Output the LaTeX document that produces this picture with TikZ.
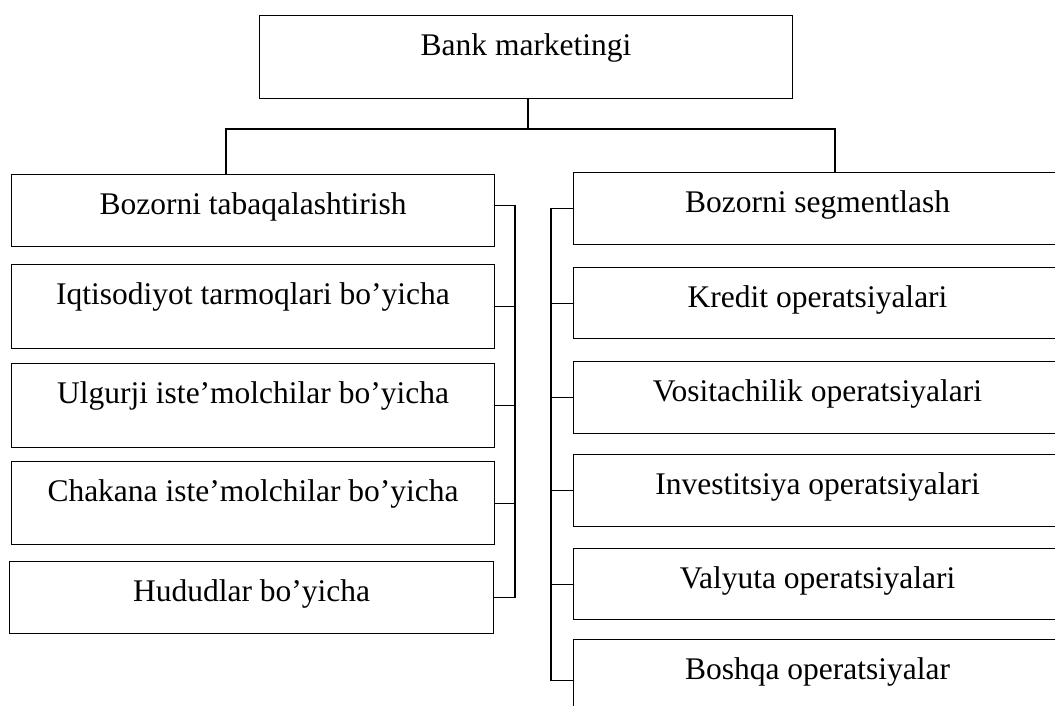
\documentclass[tikz,border=0pt]{standalone}
\usepackage{fontspec}
\setmainfont{Liberation Serif}
\begin{document}
\begin{tikzpicture}[x=1pt,y=-1pt,
  box/.style={draw, line width=1.1pt, rectangle, inner sep=0pt, anchor=north west,
    text height=40pt, font=\fontsize{31.5}{37}\selectfont, align=center},
  conn/.style={line width=1.1pt}]
\useasboundingbox (0,0) rectangle (1055,706);
\clip (0,0) rectangle (1055,706);
% top
\node[box, minimum width=533pt, minimum height=83pt, text depth=43pt] (top) at (259,15) {Bank marketingi};
% left column
\node[box, minimum width=483pt, minimum height=72pt, text depth=32pt] (lb1) at (11,174) {Bozorni tabaqalashtirish};
\node[box, minimum width=483pt, minimum height=84pt, text depth=44pt] (lb2) at (11,264) {Iqtisodiyot tarmoqlari bo’yicha};
\node[box, minimum width=483pt, minimum height=84pt, text depth=44pt] (lb3) at (11,363) {Ulgurji iste’molchilar bo’yicha};
\node[box, minimum width=483pt, minimum height=83pt, text depth=43pt] (lb4) at (11,461) {Chakana iste’molchilar bo’yicha};
\node[box, minimum width=484pt, minimum height=72pt, text depth=32pt] (lb5) at (9,561) {Hududlar bo’yicha};
% right column
\node[box, minimum width=488pt, minimum height=72pt, text depth=32pt] (rb1) at (573,172) {Bozorni segmentlash};
\node[box, minimum width=488pt, minimum height=71pt, text depth=31pt] (rb2) at (573,267) {Kredit operatsiyalari};
\node[box, minimum width=488pt, minimum height=72pt, text depth=32pt] (rb3) at (573,361) {Vositachilik operatsiyalari};
\node[box, minimum width=488pt, minimum height=72pt, text depth=32pt] (rb4) at (573,454) {Investitsiya operatsiyalari};
\node[box, minimum width=488pt, minimum height=71pt, text depth=31pt] (rb5) at (573,548) {Valyuta operatsiyalari};
\node[box, minimum width=488pt, minimum height=82pt, text depth=42pt] (rb6) at (573,639) {Boshqa operatsiyalar};
% junctions
\coordinate (hub) at (528,129);
\coordinate (lj) at (226,129);
\coordinate (rj) at (835,129);
\coordinate (lbus) at (515,0);
\coordinate (rbus) at (551,0);
\draw[conn] (top.south -| hub) -- (hub);
\draw[conn] (lb1.north -| lj) -- (lj) -- (rj) -- (rb1.north -| rj);
% left bus
\draw[conn] ([yshift=5pt]lb1.east) -- ([yshift=5pt]lb1.east -| lbus) -- (lb5.east -| lbus) -- (lb5.east);
\draw[conn] (lb2.east) -- (lb2.east -| lbus);
\draw[conn] (lb3.east) -- (lb3.east -| lbus);
\draw[conn] (lb4.east) -- (lb4.east -| lbus);
% right bus
\draw[conn] (rb1.west) -- (rb1.west -| rbus) -- (rb6.west -| rbus) -- (rb6.west);
\draw[conn] (rb2.west) -- (rb2.west -| rbus);
\draw[conn] (rb3.west) -- (rb3.west -| rbus);
\draw[conn] (rb4.west) -- (rb4.west -| rbus);
\draw[conn] (rb5.west) -- (rb5.west -| rbus);
\end{tikzpicture}
\end{document}
